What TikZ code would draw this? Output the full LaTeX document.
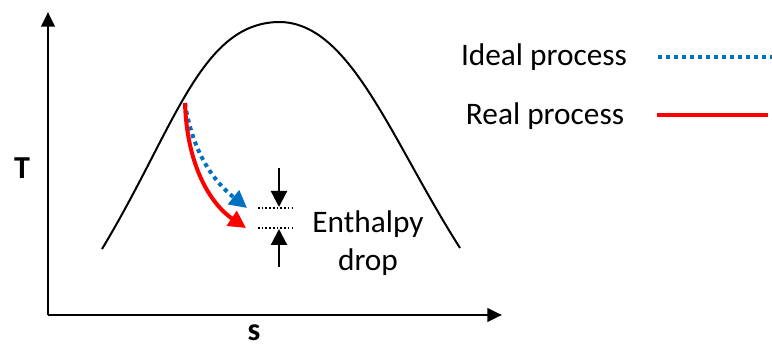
\documentclass[tikz,border=0pt]{standalone}
\usepackage{fontspec}
\setmainfont{Carlito}
\usepackage{xcolor}
\usepackage{tikz}
\usetikzlibrary{arrows.meta, positioning, calc}
\definecolor{idealblue}{RGB}{0,112,192}
\definecolor{realred}{RGB}{255,0,0}
\tikzset{
  axisarrow/.style={
    -{Triangle[length=11pt, width=10pt]}, line width=2.2pt
  },
  domeline/.style={
    line width=1.5pt, black
  },
  idealline/.style={
    line width=3pt, color=idealblue, dash pattern=on 3pt off 3pt
  },
  realline/.style={
    line width=3pt, color=realred
  },
  idealarrow/.style={
    idealline, -{Triangle[length=13pt, width=13pt]}
  },
  realarrow/.style={
    realline, -{Triangle[length=13pt, width=13pt]}
  },
  droparrow/.style={
    -{Triangle[length=12pt, width=12pt]}, line width=1.6pt
  },
  levelline/.style={
    line width=1pt, dash pattern=on 1.2pt off 1.6pt
  },
  axislabel/.style={
    font=\bfseries\fontsize{24pt}{28pt}\selectfont, inner sep=0pt
  },
  plainlabel/.style={
    font=\fontsize{23.5pt}{28pt}\selectfont, align=center
  },
}

\begin{document}
\begin{tikzpicture}[x=0.75pt, y=-0.75pt]
  \useasboundingbox (0,0) rectangle (772,349);

  % Axes
  \coordinate (origin) at (48,315);
  \coordinate (Ttip) at (48,12);
  \coordinate (stip) at (502,315);
  \draw[axisarrow] (origin) -- (Ttip);
  \draw[axisarrow] (origin) -- (stip);
  \node[axislabel] (Tlabel) at (22,168) {T};
  \node[axislabel] (slabel) at (254,333) {s};

  % Saturation dome
  \coordinate (domeL) at (102,249);
  \coordinate (domeTop) at (278,22);
  \coordinate (domeR) at (460,248);
  \draw[domeline] (domeL) .. controls (175,128) and (200,24) .. (domeTop)
    .. controls (350,21) and (390,138) .. (domeR);

  % Expansion
  \coordinate (state1) at (185,103);
  \coordinate (ideal2) at (247,208);
  \coordinate (real2) at (246,228);
  \draw[idealarrow] (state1) .. controls (192,150) and (212,180) .. (ideal2);
  \draw[realarrow] (state1) .. controls (187,168) and (212,205) .. (real2);

  % Enthalpy drop
  \coordinate (lvlA1) at (258,208);
  \coordinate (lvlA2) at (295,208);
  \coordinate (lvlB1) at (258,228);
  \coordinate (lvlB2) at (295,228);
  \draw[levelline] (lvlA1) -- (lvlA2);
  \draw[levelline] (lvlB1) -- (lvlB2);
  \coordinate (downtop) at (279,168);
  \coordinate (downtip) at (279,207);
  \coordinate (uptip) at (279,229);
  \coordinate (upbot) at (279,267);
  \draw[droparrow] (downtop) -- (downtip);
  \draw[droparrow] (upbot) -- (uptip);
  \node[plainlabel] (droplabel) at (368,243) {Enthalpy\\drop};

  % Legend
  \node[plainlabel] (ideallabel) at (544,57) {Ideal process};
  \node[plainlabel] (reallabel) at (545,116) {Real process};
  \coordinate (idealA) at (658,57);
  \coordinate (idealB) at (772,57);
  \coordinate (realA) at (657,115);
  \coordinate (realB) at (768,115);
  \draw[idealline] (idealA) -- (idealB);
  \draw[realline] (realA) -- (realB);
\end{tikzpicture}
\end{document}
